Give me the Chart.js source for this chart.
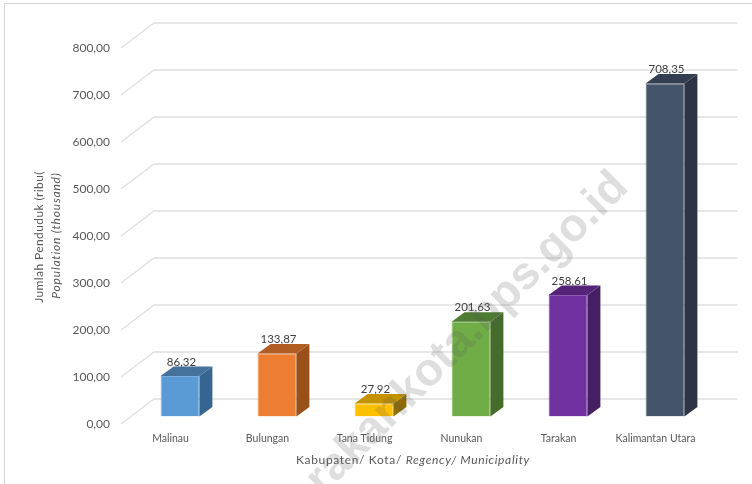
<!DOCTYPE html>
<html>
<head>
<meta charset="utf-8">
<script src="https://cdn.jsdelivr.net/npm/chart.js@4"></script>
<style>
  body { margin: 0; background: #fff; }
  #wrap { width: 752px; height: 484px; }
</style>
</head>
<body>
<div id="wrap"><canvas id="popChart" width="752" height="484"></canvas></div>
<script>
const categories = ['Malinau', 'Bulungan', 'Tana Tidung', 'Nunukan', 'Tarakan', 'Kalimantan Utara'];
const population = [86.32, 133.87, 27.92, 201.63, 258.61, 708.35];
const frontColors = ['#5B9BD5', '#ED7D31', '#FFC000', '#70AD47', '#7030A0', '#44546A'];
const edgeColors = ['#7CAFDD', '#F19659', '#FFCC33', '#8CBD6B', '#8C59B3', '#69768A'];
const topColors = ['#44729D', '#B15D24', '#C49400', '#4F7B32', '#552479', '#333F50'];
const sideColors = ['#376591', '#9A5119', '#8F6D00', '#466C2C', '#461E64', '#2B3543'];
const yTitle = 'Jumlah Penduduk (ribu(';
const yTitleEn = 'Population (thousand)';
const xTitle = 'Kabupaten/ Kota/ ';
const xTitleEn = 'Regency/ Municipality';
const watermark = 'tarakankota.bps.go.id';

const FONT = 'Lato, sans-serif';
const TEXT = '#595959';
const DX = 13, DY = 9.5;      // bar depth
const fmt = v => v.toFixed(2).replace('.', ',');

const fake3d = {
    id: 'fake3d',
    // frame and back wall, under the bars
    beforeDatasetsDraw(chart) {
        const { ctx, scales: { y } } = chart;
        ctx.save();
        ctx.strokeStyle = '#D4D4D4';
        ctx.lineWidth = 1;
        ctx.beginPath();
        ctx.moveTo(4.5, 484);
        ctx.lineTo(4.5, 3.5);
        ctx.lineTo(752, 3.5);
        ctx.stroke();

        y.ticks.forEach(t => {
            const p = y.getPixelForValue(t.value);
            ctx.strokeStyle = '#E0E0E0';
            ctx.lineWidth = 1.4;
            ctx.beginPath();
            ctx.moveTo(121, p + 7.5);
            ctx.lineTo(154, p - 17.5);
            ctx.lineTo(737.5, p - 17.5);
            ctx.stroke();
        });
        ctx.restore();
    },
    // top and side faces plus value labels
    afterDatasetsDraw(chart) {
        const { ctx } = chart;
        const bars = chart.getDatasetMeta(0).data;
        ctx.save();
        bars.forEach((bar, i) => {
            const l = bar.x - bar.width / 2, r = bar.x + bar.width / 2;
            ctx.fillStyle = sideColors[i];
            ctx.beginPath();
            ctx.moveTo(r, bar.y);
            ctx.lineTo(r + DX, bar.y - DY);
            ctx.lineTo(r + DX, bar.base - DY);
            ctx.lineTo(r, bar.base);
            ctx.closePath();
            ctx.fill();
            ctx.fillStyle = topColors[i];
            ctx.beginPath();
            ctx.moveTo(l, bar.y);
            ctx.lineTo(l + DX, bar.y - DY);
            ctx.lineTo(r + DX, bar.y - DY);
            ctx.lineTo(r, bar.y);
            ctx.closePath();
            ctx.fill();
            ctx.fillStyle = '#404040';
            ctx.font = '11.5px ' + FONT;
            ctx.textAlign = 'center';
            ctx.textBaseline = 'middle';
            ctx.fillText(fmt(population[i]), bar.x + 1.5, bar.y - 14);
        });
        ctx.restore();
    },
    afterDraw(chart) {
        const { ctx } = chart;
        ctx.save();
        ctx.fillStyle = TEXT;
        ctx.textBaseline = 'middle';

        // x title, mixed upright and italic
        ctx.textAlign = 'left';
        ctx.letterSpacing = '0.65px';
        ctx.font = '12px ' + FONT;
        const w1 = ctx.measureText(xTitle).width;
        ctx.fillText(xTitle, 296, 460);
        ctx.font = 'italic 12px ' + FONT;
        ctx.fillText(xTitleEn, 296 + w1, 460);

        // y title, two rotated lines
        ctx.textAlign = 'center';
        ctx.save();
        ctx.translate(39, 237);
        ctx.rotate(-Math.PI / 2);
        ctx.letterSpacing = '0.4px';
        ctx.font = '12px ' + FONT;
        ctx.fillText(yTitle, 0, 0);
        ctx.restore();
        ctx.save();
        ctx.translate(56, 235.5);
        ctx.rotate(-Math.PI / 2);
        ctx.letterSpacing = '0.8px';
        ctx.font = 'italic 12px ' + FONT;
        ctx.fillText(yTitleEn, 0, 0);
        ctx.restore();
        ctx.letterSpacing = '0px';

        // watermark lies over everything
        ctx.save();
        ctx.translate(630, 189);
        ctx.rotate(-Math.PI / 4);
        ctx.textAlign = 'right';
        ctx.textBaseline = 'alphabetic';
        ctx.font = 'bold 46px "Liberation Sans", sans-serif';
        ctx.fillStyle = 'rgba(90, 90, 90, 0.2)';
        ctx.fillText(watermark, 0, 0);
        ctx.restore();
        ctx.restore();
    }
};

new Chart(document.getElementById('popChart'), {
    type: 'bar',
    data: {
        labels: categories,
        datasets: [{
            data: population,
            backgroundColor: frontColors,
            borderColor: edgeColors,
            borderWidth: 1,
            categoryPercentage: 1,
            barPercentage: 0.4
        }]
    },
    options: {
        responsive: false,
        animation: false,
        layout: { padding: { left: 0, right: 38.5, top: 40.5, bottom: 0 } },
        plugins: { legend: { display: false }, tooltip: { enabled: false } },
        scales: {
            x: {
                grid: { display: false, drawTicks: false },
                border: { display: false },
                ticks: {
                    color: TEXT,
                    font: { family: FONT, size: 10.5 },
                    padding: 15.5,
                    labelOffset: -9.5,
                    maxRotation: 0,
                    autoSkip: false
                },
                afterFit(scale) { scale.height = 67.5; }
            },
            y: {
                min: 0,
                max: 800,
                grid: { display: false, drawTicks: false },
                border: { display: false },
                ticks: {
                    stepSize: 100,
                    color: TEXT,
                    font: { family: FONT, size: 12 },
                    padding: 21.5,
                    labelOffset: 7.5,
                    callback: v => fmt(v)
                },
                afterFit(scale) {
                    scale.width = 131.5;
                    scale.paddingTop = 0;
                    scale.paddingBottom = 0;
                }
            }
        }
    },
    plugins: [fake3d]
});
</script>
</body>
</html>
